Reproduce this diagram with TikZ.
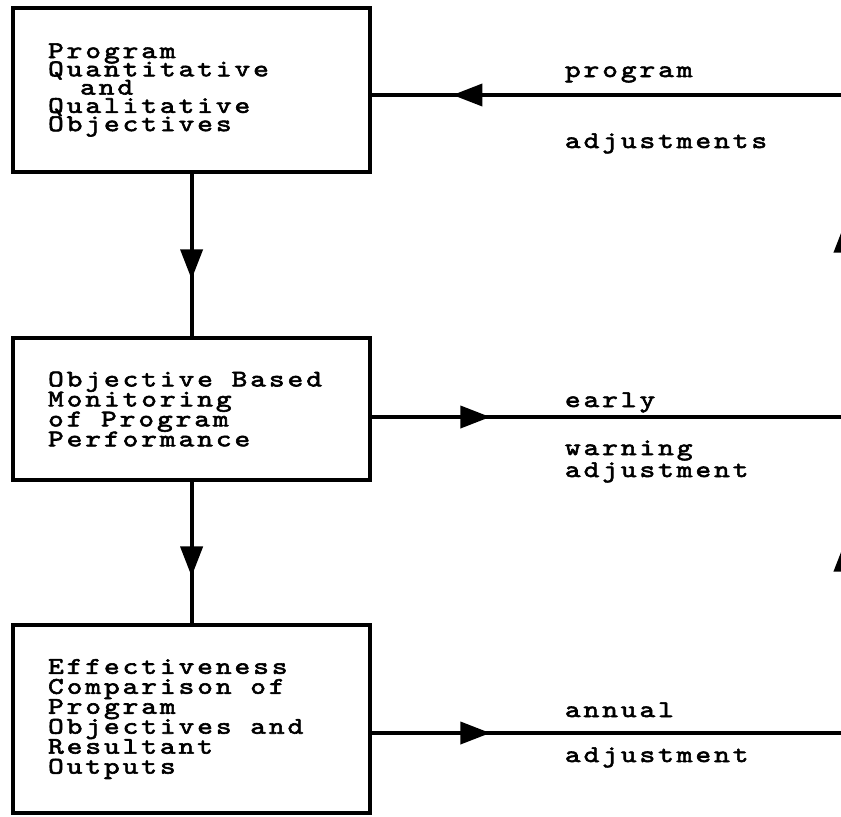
\documentclass[tikz,border=0pt]{standalone}
\usepackage{fontspec}
\newfontfamily\typewr{lmmono10-regular}[Extension=.otf,
  FakeStretch=1.25, LetterSpace=12.4, FakeBold=2.5]
\newcommand\tsp{\hspace*{0.4675cm}}
\newcommand\tightlines{\setlength{\lineskiplimit}{-20pt}}
\usetikzlibrary{arrows.meta,decorations.markings}

\begin{document}
\begin{tikzpicture}[
  line width=2.8pt,
  box/.style={draw, line width=2.8pt, align=left, inner xsep=0.875cm,
    inner ysep=0pt, text width=7.175cm, minimum width=8.925cm,
    font=\typewr\fontsize{17}{14.2}\selectfont\tightlines},
  lbl/.style={anchor=base west, inner sep=0pt,
    font=\typewr\fontsize{17}{13}\selectfont},
  midtip/.style={postaction={decorate}, decoration={markings,
    mark=at position #1 with {\arrow{Triangle[length=0.75cm, width=0.55cm]}}}},
  uptips/.style={postaction={decorate}, decoration={markings,
    mark=at position 0.30 with {\arrow{Triangle[length=0.75cm, width=0.55cm]}},
    mark=at position 0.80 with {\arrow{Triangle[length=0.75cm, width=0.55cm]}}}}
]
  \useasboundingbox (0,0) rectangle (21.025,-20.4);

  % the three stages
  \node[box, minimum height=4.1cm,
        font=\typewr\fontsize{17}{13}\selectfont\tightlines] (quant) at (4.79,-2.25)
    {Program\\Quantitative\\\hspace*{0.8cm}and\\Qualitative\\Objectives};
  \node[box, minimum height=3.55cm] (monitor) at (4.79,-10.225)
    {Objective\tsp Based\\Monitoring\\of\tsp Program\\Performance};
  \node[box, minimum height=4.7cm] (compare) at (4.79,-17.975)
    {Effectiveness\\Comparison\tsp of\\Program\\Objectives\tsp and\\Resultant\\Outputs};

  % feedback line on the right edge
  \coordinate (rtop) at (21.125,-2.375);
  \coordinate (rmid) at (21.125,-10.425);
  \coordinate (rbot) at (21.125,-18.325);

  \draw[midtip=0.65] (quant) -- (monitor);
  \draw[midtip=0.67] (monitor) -- (compare);

  \draw[midtip=0.25] (compare.east |- rbot) -- (rbot);
  \draw[midtip=0.25] (monitor.east |- rmid) -- (rmid);
  \draw[uptips] (rbot) -- (rtop);
  \draw[midtip=0.83] (rtop) -- (quant.east |- rtop);

  % labels
  \node[lbl] (progl) at (14.075,-1.925) {program};
  \node[lbl] (adjl) at (14.075,-3.7) {adjustments};
  \node[lbl] (earlyl) at (14.075,-10.175) {early};
  \node[lbl] (warnl) at (14.075,-11.375) {warning};
  \node[lbl] (warnadjl) at (14.075,-11.925) {adjustment};
  \node[lbl] (annl) at (14.075,-17.925) {annual};
  \node[lbl] (annadjl) at (14.075,-19.05) {adjustment};
\end{tikzpicture}
\end{document}
